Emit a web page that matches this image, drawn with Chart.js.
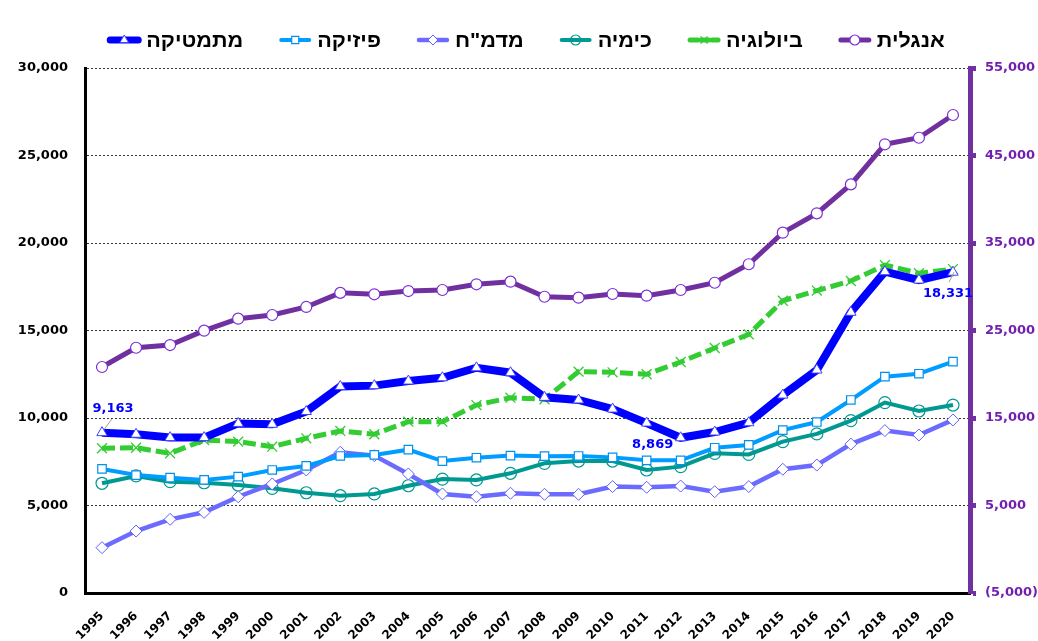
<!DOCTYPE html>
<html>
<head>
<meta charset="utf-8">
<script src="https://cdn.jsdelivr.net/npm/chart.js@4.4.0/dist/chart.umd.min.js"></script>
<style>
html,body{margin:0;padding:0;background:#fff;}
#wrap{width:1038px;height:641px;position:relative;}
</style>
</head>
<body>
<div id="wrap"><canvas id="c"></canvas></div>
<script>
// ---------- data ----------
const years = ['1995','1996','1997','1998','1999','2000','2001','2002','2003','2004','2005','2006','2007','2008','2009','2010','2011','2012','2013','2014','2015','2016','2017','2018','2019','2020'];
const seriesNames = ['מתמטיקה','פיזיקה','מדמ"ח','כימיה','ביולוגיה','אנגלית'];
const math      = [9163, 9070, 8880, 8880, 9690, 9640, 10370, 11800, 11850, 12110, 12300, 12870, 12590, 11180, 11030, 10510, 9710, 8869, 9200, 9730, 11310, 12740, 16040, 18360, 17880, 18331];
const physics   = [7090, 6740, 6590, 6460, 6650, 7030, 7260, 7830, 7890, 8190, 7540, 7730, 7850, 7820, 7830, 7750, 7580, 7580, 8300, 8460, 9310, 9770, 11030, 12360, 12530, 13220];
const cs        = [2590, 3540, 4210, 4610, 5500, 6230, 7030, 8040, 7850, 6800, 5660, 5500, 5700, 5640, 5640, 6080, 6040, 6110, 5790, 6080, 7070, 7310, 8510, 9280, 9030, 9890];
const chemistry = [6270, 6690, 6360, 6300, 6170, 5980, 5730, 5560, 5660, 6130, 6510, 6460, 6840, 7410, 7540, 7540, 7030, 7220, 7980, 7920, 8650, 9090, 9850, 10880, 10400, 10740];
const biology   = [8270, 8300, 7980, 8740, 8650, 8360, 8840, 9260, 9070, 9790, 9790, 10740, 11160, 11070, 12650, 12610, 12500, 13200, 14000, 14780, 16700, 17280, 17830, 18740, 18270, 18510];
const english   = [20830, 23030, 23340, 24980, 26350, 26770, 27690, 29300, 29140, 29510, 29630, 30280, 30580, 28860, 28750, 29170, 28980, 29630, 30460, 32570, 36180, 38390, 41700, 46280, 47030, 49630];
const leftTicks  = [0, 5000, 10000, 15000, 20000, 25000, 30000];
const rightTicks = [-5000, 5000, 15000, 25000, 35000, 45000, 55000];
const labelledYears = ['1995', '2012', '2020'];

// ---------- helpers ----------
const fmt = v => Math.abs(v).toLocaleString('en-US');
Chart.defaults.font.family = '"DejaVu Sans", Verdana, sans-serif';

const labelStyle = {
  '1995': {dx: 11, dy: -24, leader: [2, -3, 10, -14]},
  '2012': {dx: -28, dy: 7, leader: null},
  '2020': {dx: -5, dy: 21, leader: [1, 0, -4, 10]}
};

const valueLabels = {
  id: 'valueLabels',
  afterDatasetsDraw(chart) {
    const ctx = chart.ctx;
    const meta = chart.getDatasetMeta(0);
    const ds = chart.data.datasets[0];
    ctx.save();
    ctx.font = 'bold 13px "DejaVu Sans", Verdana, sans-serif';
    ctx.textAlign = 'center';
    ctx.textBaseline = 'middle';
    labelledYears.forEach(yr => {
      const i = years.indexOf(yr);
      const p = meta.data[i];
      const st = labelStyle[yr];
      if (st.leader) {
        ctx.strokeStyle = '#a0a0a0';
        ctx.lineWidth = 1;
        ctx.beginPath();
        ctx.moveTo(p.x + st.leader[0], p.y + st.leader[1]);
        ctx.lineTo(p.x + st.leader[2], p.y + st.leader[3]);
        ctx.stroke();
      }
      ctx.fillStyle = '#0000FF';
      ctx.fillText(fmt(ds.data[i]), p.x + st.dx, p.y + st.dy);
    });
    ctx.restore();
  }
};

const customLegend = {
  id: 'customLegend',
  afterDraw(chart) {
    const ctx = chart.ctx;
    ctx.save();
    ctx.font = 'bold 20px "Liberation Sans", Arial, "DejaVu Sans", sans-serif';
    // horizontal text scale so the first label spans ~97px, as in the original
    let sx = 97 / ctx.measureText(seriesNames[0]).width;
    sx = Math.max(0.7, Math.min(1.3, sx));
    const symW = 34, gapIn = 5, gapOut = 35, cy = 40, centerX = 526;
    const items = chart.data.datasets.map(ds => ({ds, w: ctx.measureText(ds.label).width * sx}));
    const total = items.reduce((s, it) => s + symW + gapIn + it.w, 0) + gapOut * (items.length - 1);
    let x = centerX - total / 2;
    items.forEach(it => {
      const ds = it.ds;
      ctx.save();
      ctx.strokeStyle = ds.borderColor;
      ctx.lineWidth = Math.min(ds.borderWidth, 7);
      ctx.lineCap = 'round';
      ctx.setLineDash(ds.borderDash ? [8, 3] : []);
      ctx.beginPath();
      ctx.moveTo(x + 3, cy);
      ctx.lineTo(x + symW - 3, cy);
      ctx.stroke();
      ctx.setLineDash([]);
      ctx.lineCap = 'butt';
      ctx.fillStyle = ds.pointBackgroundColor;
      ctx.strokeStyle = ds.pointBorderColor;
      ctx.lineWidth = ds.pointBorderWidth;
      Chart.helpers.drawPoint(ctx, {pointStyle: ds.pointStyle, radius: 5, borderWidth: ds.pointBorderWidth, rotation: 0}, x + symW / 2, cy);
      ctx.restore();
      ctx.save();
      ctx.fillStyle = '#000';
      ctx.textAlign = 'left';
      ctx.textBaseline = 'middle';
      ctx.translate(x + symW + gapIn, cy + 1);
      ctx.scale(sx, 1);
      ctx.fillText(ds.label, 0, 0);
      ctx.restore();
      x += symW + gapIn + it.w + gapOut;
    });
    ctx.restore();
  }
};

const tickFont = {family: '"DejaVu Sans", Verdana, sans-serif', weight: 'bold', size: 13};

new Chart(document.getElementById('c'), {
  type: 'line',
  data: {
    labels: years,
    datasets: [
      {label: seriesNames[0], data: math, yAxisID: 'y', borderColor: '#0000FF', borderWidth: 8,
       pointStyle: 'triangle', pointRadius: 6, pointBackgroundColor: '#ffffff', pointBorderColor: '#4040ff', pointBorderWidth: 1},
      {label: seriesNames[1], data: physics, yAxisID: 'y', borderColor: '#009CFF', borderWidth: 4,
       pointStyle: 'rect', pointRadius: 6, pointBackgroundColor: '#ffffff', pointBorderColor: '#0090F0', pointBorderWidth: 1.2},
      {label: seriesNames[2], data: cs, yAxisID: 'y', borderColor: '#6B6BFF', borderWidth: 4.5,
       pointStyle: 'rectRot', pointRadius: 6, pointBackgroundColor: '#ffffff', pointBorderColor: '#6060FF', pointBorderWidth: 1},
      {label: seriesNames[3], data: chemistry, yAxisID: 'y', borderColor: '#009991', borderWidth: 4,
       pointStyle: 'circle', pointRadius: 6, pointBackgroundColor: 'rgba(0,0,0,0)', pointBorderColor: '#009991', pointBorderWidth: 1.2},
      {label: seriesNames[4], data: biology, yAxisID: 'y', borderColor: '#33CC33', borderWidth: 5, borderDash: [13, 5],
       pointStyle: 'crossRot', pointRadius: 7, pointBackgroundColor: '#33CC33', pointBorderColor: '#33CC33', pointBorderWidth: 1.3},
      {label: seriesNames[5], data: english, yAxisID: 'y1', borderColor: '#7030A0', borderWidth: 5,
       pointStyle: 'circle', pointRadius: 5.5, pointBackgroundColor: '#ffffff', pointBorderColor: '#7B2FD6', pointBorderWidth: 1.2}
    ]
  },
  options: {
    responsive: true,
    maintainAspectRatio: false,
    animation: false,
    layout: {padding: {top: 68, left: 0, right: 0, bottom: 0}},
    elements: {line: {tension: 0}},
    plugins: {legend: {display: false}, tooltip: {enabled: false}},
    scales: {
      x: {
        offset: true,
        grid: {display: false},
        border: {display: true, color: '#000', width: 3},
        ticks: {font: {family: '"DejaVu Sans", Verdana, sans-serif', weight: 'bold', size: 12}, color: '#000',
                minRotation: 45, maxRotation: 45, autoSkip: false, padding: 8},
        afterFit(s) { s.height = 48; }
      },
      y: {
        position: 'left', min: 0, max: 30000,
        afterBuildTicks(s) { s.ticks = leftTicks.map(v => ({value: v})); },
        grid: {color: '#333', lineWidth: 1, drawTicks: false},
        border: {display: true, color: '#000', width: 3, dash: [2, 2]},
        ticks: {font: tickFont, color: '#000', padding: 17, callback: v => fmt(v)},
        afterFit(s) { s.width = 85; }
      },
      y1: {
        position: 'right', min: -5000, max: 55000,
        afterBuildTicks(s) { s.ticks = rightTicks.map(v => ({value: v})); },
        grid: {drawOnChartArea: false, drawTicks: true, tickLength: 6, tickColor: '#7030A0', tickWidth: 5},
        border: {display: true, color: '#7030A0', width: 5},
        ticks: {font: tickFont, color: '#7020B0', padding: 9,
                callback: v => v < 0 ? '(' + fmt(v) + ')' : fmt(v)},
        afterFit(s) { s.width = 68; }
      }
    }
  },
  plugins: [valueLabels, customLegend]
});
</script>
</body>
</html>
